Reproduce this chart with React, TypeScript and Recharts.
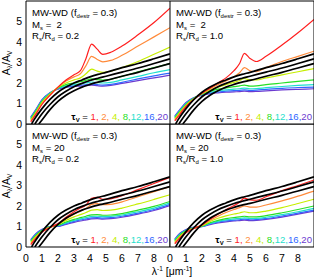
import React from 'react';
import { LineChart, Line, XAxis, YAxis } from 'recharts';

// ---------- data ----------
// wavenumber grids (1/micron) for the left and right columns
const XG_L = [0.3, 0.6, 1, 1.5, 2, 2.5, 3, 3.4, 3.75, 4.1, 4.45, 4.8, 5.3, 6, 7, 8, 9];
const XG_R = [0.3, 0.6, 1, 1.5, 2, 2.5, 3, 3.5, 4, 4.35, 4.65, 5.0, 5.4, 6, 7, 8, 9];

const TAU_LABELS = ['1', '2', '4', '8', '12', '16', '20'];
const COLORS = ['#ff1f1f', '#ff8a3a', '#c6ee00', '#26e026', '#1fe0cc', '#3068ff', '#6c3ad0'];

// black curves
const B1_X = [0.35, 0.5, 1, 1.5, 2, 2.5, 3, 3.5, 4, 4.5, 5, 6, 7, 8, 9];
const B1_Y = [0, 0.2, 0.75, 1.2, 1.55, 1.8, 2.0, 2.15, 2.3, 2.42, 2.52, 2.75, 2.95, 3.18, 3.42];
const B2_X = [0.55, 1, 1.5, 2, 2.5, 3, 3.5, 4, 4.5, 5, 6, 7, 8, 9];
const B2_Y = [0, 0.5, 0.95, 1.33, 1.6, 1.82, 1.98, 2.12, 2.23, 2.33, 2.53, 2.73, 2.95, 3.18];
const B3_X = [0.8, 1, 1.5, 2, 2.5, 3, 3.5, 4, 4.5, 5, 6, 7, 8, 9];
const B3_Y = [0, 0.2, 0.7, 1.1, 1.4, 1.62, 1.8, 1.93, 2.04, 2.13, 2.33, 2.52, 2.73, 2.95];

// Ms = 2, Rs/Rd = 0.2   (grid XG_L)
const TL_1 = [0.1, 0.45, 0.95, 1.4, 1.8, 2.15, 2.4, 2.6, 3.2, 3.9, 3.65, 3.4, 3.5, 3.8, 4.35, 4.95, 5.65];
const TL_2 = [0.15, 0.5, 1.0, 1.42, 1.8, 2.1, 2.3, 2.45, 2.85, 3.3, 3.15, 3.03, 3.1, 3.35, 3.8, 4.25, 4.7];
const TL_4 = [0.2, 0.55, 1.05, 1.45, 1.78, 2.0, 2.15, 2.25, 2.45, 2.68, 2.58, 2.52, 2.58, 2.75, 3.05, 3.4, 3.75];
const TL_8 = [0.25, 0.6, 1.1, 1.48, 1.76, 1.92, 2.0, 2.06, 2.13, 2.2, 2.16, 2.14, 2.18, 2.32, 2.55, 2.75, 2.95];
const TL_12 = [0.28, 0.63, 1.13, 1.5, 1.74, 1.86, 1.92, 1.96, 2.0, 2.05, 2.02, 2.0, 2.03, 2.15, 2.32, 2.5, 2.65];
const TL_16 = [0.31, 0.66, 1.16, 1.52, 1.72, 1.82, 1.86, 1.89, 1.92, 1.95, 1.92, 1.9, 1.93, 2.03, 2.2, 2.35, 2.48];
const TL_20 = [0.34, 0.69, 1.19, 1.53, 1.7, 1.79, 1.83, 1.85, 1.87, 1.9, 1.87, 1.85, 1.88, 1.98, 2.12, 2.25, 2.38];

// Ms = 2, Rs/Rd = 1.0   (grid XG_R)
const TR_1 = [0.15, 0.45, 0.85, 1.2, 1.5, 1.75, 2.0, 2.25, 2.6, 2.95, 3.45, 3.2, 3.05, 3.3, 3.85, 4.45, 5.1];
const TR_2 = [0.2, 0.5, 0.88, 1.22, 1.5, 1.72, 1.92, 2.1, 2.3, 2.5, 2.75, 2.6, 2.55, 2.75, 3.05, 3.3, 3.55];
const TR_4 = [0.25, 0.55, 0.92, 1.24, 1.48, 1.66, 1.8, 1.92, 2.03, 2.12, 2.22, 2.15, 2.15, 2.25, 2.4, 2.55, 2.7];
const TR_8 = [0.3, 0.6, 0.96, 1.26, 1.46, 1.6, 1.7, 1.76, 1.82, 1.86, 1.9, 1.85, 1.86, 1.92, 2.0, 2.08, 2.15];
const TR_12 = [0.33, 0.63, 0.99, 1.27, 1.44, 1.55, 1.62, 1.66, 1.7, 1.72, 1.75, 1.72, 1.73, 1.77, 1.83, 1.88, 1.92];
const TR_16 = [0.36, 0.66, 1.02, 1.28, 1.42, 1.51, 1.56, 1.6, 1.63, 1.64, 1.66, 1.64, 1.65, 1.69, 1.74, 1.78, 1.8];
const TR_20 = [0.39, 0.69, 1.05, 1.29, 1.4, 1.48, 1.52, 1.55, 1.57, 1.58, 1.6, 1.58, 1.59, 1.62, 1.66, 1.69, 1.72];

// Ms = 20, Rs/Rd = 0.2   (grid XG_L)
const BL_1 = [0.12, 0.4, 0.72, 0.95, 1.15, 1.45, 1.72, 1.9, 2.05, 2.38, 2.42, 2.33, 2.35, 2.5, 2.8, 3.1, 3.4];
const BL_2 = [0.17, 0.45, 0.74, 0.96, 1.12, 1.38, 1.6, 1.75, 1.88, 2.08, 2.12, 2.06, 2.08, 2.2, 2.45, 2.7, 2.95];
const BL_4 = [0.22, 0.5, 0.77, 0.97, 1.09, 1.3, 1.47, 1.58, 1.68, 1.8, 1.82, 1.78, 1.8, 1.9, 2.1, 2.32, 2.55];
const BL_8 = [0.27, 0.55, 0.8, 0.98, 1.06, 1.22, 1.35, 1.43, 1.5, 1.57, 1.58, 1.55, 1.56, 1.63, 1.8, 1.98, 2.22];
const BL_12 = [0.3, 0.58, 0.82, 0.99, 1.04, 1.18, 1.3, 1.37, 1.43, 1.49, 1.5, 1.48, 1.49, 1.56, 1.72, 1.9, 2.15];
const BL_16 = [0.33, 0.61, 0.84, 1.0, 1.02, 1.14, 1.25, 1.32, 1.37, 1.42, 1.43, 1.41, 1.43, 1.5, 1.65, 1.83, 2.08];
const BL_20 = [0.36, 0.64, 0.86, 1.0, 1.0, 1.1, 1.2, 1.27, 1.32, 1.37, 1.38, 1.36, 1.38, 1.45, 1.6, 1.78, 2.02];

// Ms = 20, Rs/Rd = 1.0   (grid XG_R)
const BR_1 = [0.15, 0.42, 0.7, 0.9, 1.08, 1.35, 1.6, 1.82, 2.02, 2.18, 2.38, 2.3, 2.28, 2.45, 2.75, 3.0, 3.27];
const BR_2 = [0.2, 0.47, 0.73, 0.91, 1.06, 1.3, 1.5, 1.68, 1.83, 1.92, 2.0, 1.95, 1.95, 2.05, 2.25, 2.48, 2.73];
const BR_4 = [0.25, 0.52, 0.76, 0.93, 1.04, 1.24, 1.4, 1.52, 1.61, 1.66, 1.72, 1.67, 1.68, 1.75, 1.92, 2.12, 2.33];
const BR_8 = [0.3, 0.57, 0.79, 0.94, 1.02, 1.18, 1.3, 1.38, 1.44, 1.47, 1.5, 1.47, 1.47, 1.53, 1.67, 1.83, 2.0];
const BR_12 = [0.33, 0.6, 0.81, 0.95, 1.01, 1.15, 1.25, 1.32, 1.37, 1.39, 1.42, 1.39, 1.4, 1.45, 1.58, 1.72, 1.88];
const BR_16 = [0.36, 0.63, 0.83, 0.96, 1.0, 1.12, 1.21, 1.27, 1.31, 1.33, 1.36, 1.33, 1.34, 1.39, 1.51, 1.65, 1.8];
const BR_20 = [0.39, 0.66, 0.85, 0.97, 0.99, 1.09, 1.17, 1.23, 1.27, 1.29, 1.31, 1.29, 1.3, 1.35, 1.46, 1.6, 1.75];

// ticks
const X_MAJOR = [0, 1, 2, 3, 4, 5, 6, 7, 8, 9];
const X_LABELS = [0, 1, 2, 3, 4, 5, 6, 7, 8];
const Y_MAJOR = [0, 1, 2, 3, 4, 5, 6];
const Y_LABELS = [0, 1, 2, 3, 4, 5];
const X_MINOR = Array.from({ length: 46 }, (_, i) => Math.round(i * 2) / 10).filter((v) => v % 1 !== 0);
const Y_MINOR = Array.from({ length: 31 }, (_, i) => Math.round(i * 2) / 10).filter((v) => v % 1 !== 0);

const X_DOMAIN: [number, number] = [0, 9];
const Y_DOMAIN: [number, number] = [0, 6];

// ---------- helpers ----------
const toPts = (xs: number[], ys: number[]) => xs.map((x, i) => ({ x, y: ys[i] }));
const BLACKS = [toPts(B1_X, B1_Y), toPts(B2_X, B2_Y), toPts(B3_X, B3_Y)];

const FONT = '"Liberation Sans", Arial, Helvetica, sans-serif';

type PanelDef = {
  key: string;
  left: number;
  top: number;
  w: number;
  h: number;
  margin: { top: number; right: number; bottom: number; left: number };
  showY: boolean;
  showX: boolean;
  grid: number[];
  series: number[][];
  plotLeft: number;
  plotTop: number;
  plotRight: number;
  plotBottom: number;
  ms: string;
  rr: string;
};

const PANELS: PanelDef[] = [
  { key: 'tl', left: 0, top: 0, w: 170, h: 130, margin: { top: 1, right: 0, bottom: 6, left: 0 }, showY: true, showX: false,
    grid: XG_L, series: [TL_1, TL_2, TL_4, TL_8, TL_12, TL_16, TL_20], plotLeft: 26, plotTop: 1, plotRight: 170, plotBottom: 124, ms: ' 2', rr: '0.2' },
  { key: 'tr', left: 170, top: 0, w: 144, h: 130, margin: { top: 1, right: 0, bottom: 6, left: 0 }, showY: false, showX: false,
    grid: XG_R, series: [TR_1, TR_2, TR_4, TR_8, TR_12, TR_16, TR_20], plotLeft: 170, plotTop: 1, plotRight: 314, plotBottom: 124, ms: ' 2', rr: '1.0' },
  { key: 'bl', left: 0, top: 124, w: 170, h: 155, margin: { top: 0, right: 0, bottom: 0, left: 0 }, showY: true, showX: true,
    grid: XG_L, series: [BL_1, BL_2, BL_4, BL_8, BL_12, BL_16, BL_20], plotLeft: 26, plotTop: 124, plotRight: 170, plotBottom: 247, ms: '20', rr: '0.2' },
  { key: 'br', left: 160, top: 124, w: 154, h: 155, margin: { top: 0, right: 0, bottom: 0, left: 10 }, showY: false, showX: true,
    grid: XG_R, series: [BR_1, BR_2, BR_4, BR_8, BR_12, BR_16, BR_20], plotLeft: 170, plotTop: 124, plotRight: 314, plotBottom: 247, ms: '20', rr: '1.0' },
];

const tickStyle = { fontSize: 10.5, fontFamily: FONT, fill: '#000' };

const Panel = ({ p }: { p: PanelDef }) => {
  const common = { type: 'number' as const, dataKey: 'x', domain: X_DOMAIN, allowDataOverflow: true, interval: 0 as const };
  const commonY = { type: 'number' as const, dataKey: 'y', domain: Y_DOMAIN, allowDataOverflow: true, interval: 0 as const };
  const order = [6, 5, 4, 3, 2, 1, 0];
  return (
    <div style={{ position: 'absolute', left: p.left, top: p.top }}>
      <LineChart width={p.w} height={p.h} margin={p.margin}>
        <XAxis xAxisId="x" orientation="bottom" mirror {...common} ticks={X_MAJOR} tick={false} tickSize={4}
          axisLine={{ stroke: '#000', strokeWidth: 1 }} tickLine={{ stroke: '#000' }} height={1} />
        <XAxis xAxisId="xm" orientation="bottom" mirror {...common} ticks={X_MINOR} tick={false} tickSize={2}
          axisLine={false} tickLine={{ stroke: '#000' }} height={1} />
        <XAxis xAxisId="xt" orientation="top" mirror {...common} ticks={X_MAJOR} tick={false} tickSize={4}
          axisLine={{ stroke: '#000', strokeWidth: 1 }} tickLine={{ stroke: '#000' }} height={1} />
        <XAxis xAxisId="xtm" orientation="top" mirror {...common} ticks={X_MINOR} tick={false} tickSize={2}
          axisLine={false} tickLine={{ stroke: '#000' }} height={1} />
        {p.showX && (
          <XAxis xAxisId="xl" orientation="bottom" {...common} ticks={X_LABELS} tickLine={false} axisLine={false}
            tickSize={2} tickMargin={6} height={32} tick={tickStyle} />
        )}
        <YAxis yAxisId="y" orientation="left" mirror {...commonY} ticks={Y_MAJOR} tick={false} tickSize={4}
          axisLine={{ stroke: '#000', strokeWidth: 1 }} tickLine={{ stroke: '#000' }} width={1} />
        <YAxis yAxisId="ym" orientation="left" mirror {...commonY} ticks={Y_MINOR} tick={false} tickSize={2}
          axisLine={false} tickLine={{ stroke: '#000' }} width={1} />
        <YAxis yAxisId="yr" orientation="right" mirror {...commonY} ticks={Y_MAJOR} tick={false} tickSize={4}
          axisLine={{ stroke: '#000', strokeWidth: 1 }} tickLine={{ stroke: '#000' }} width={1} />
        <YAxis yAxisId="yrm" orientation="right" mirror {...commonY} ticks={Y_MINOR} tick={false} tickSize={2}
          axisLine={false} tickLine={{ stroke: '#000' }} width={1} />
        {p.showY && (
          <YAxis yAxisId="yl" orientation="left" {...commonY} ticks={Y_LABELS} tickLine={false} axisLine={false}
            tickSize={2} tickMargin={2} width={26} tick={tickStyle} />
        )}
        {order.map((i) => (
          <Line key={'c' + i} xAxisId="x" yAxisId="y" data={toPts(p.grid, p.series[i])} dataKey="y" type="monotone"
            stroke={COLORS[i]} strokeWidth={1.2} dot={false} isAnimationActive={false} />
        ))}
        {BLACKS.map((d, i) => (
          <Line key={'b' + i} xAxisId="x" yAxisId="y" data={d} dataKey="y" type="monotone"
            stroke="#000" strokeWidth={1.7} dot={false} isAnimationActive={false} />
        ))}
      </LineChart>
    </div>
  );
};

const sub = (t: string) => (
  <span style={{ fontSize: '0.62em', verticalAlign: '-0.3em' }}>{t}</span>
);
const sup = (t: string) => (
  <span style={{ fontSize: '0.62em', verticalAlign: '0.55em' }}>{t}</span>
);

const PanelText = ({ p }: { p: PanelDef }) => {
  const base: React.CSSProperties = {
    position: 'absolute', left: p.plotLeft + 6, fontFamily: FONT, fontSize: 9.6, lineHeight: '12px',
    color: '#000', whiteSpace: 'pre',
  };
  return (
    <>
      <div style={{ ...base, top: p.plotTop + 6 }}>MW-WD (f{sub('destr')} = 0.3)</div>
      <div style={{ ...base, top: p.plotTop + 17.5 }}>M{sub('s')} = {p.ms}</div>
      <div style={{ ...base, top: p.plotTop + 29 }}>R{sub('s')}/R{sub('d')} = {p.rr}</div>
      <div style={{ position: 'absolute', right: 317 - p.plotRight + 2, top: p.plotBottom - 13, fontFamily: FONT,
        fontSize: 9.6, lineHeight: '12px', whiteSpace: 'pre' }}>
        <span style={{ fontWeight: 'bold' }}>τ{sub('V')}</span> ={' '}
        {TAU_LABELS.map((t, i) => (
          <span key={t} style={{ color: COLORS[i] }}>
            {t}{i < TAU_LABELS.length - 1 ? (i < 3 ? ', ' : ',') : ''}
          </span>
        ))}
      </div>
    </>
  );
};

export default function App() {
  return (
    <div style={{ position: 'absolute', left: 0, top: 0, width: 317, height: 279, background: '#fff', overflow: 'hidden' }}>
      {PANELS.map((p) => <Panel key={p.key} p={p} />)}
      {PANELS.map((p) => <PanelText key={'t' + p.key} p={p} />)}
      {[63, 186].map((cy) => (
        <div key={cy} style={{ position: 'absolute', left: 8, top: cy, width: 0, height: 0 }}>
          <div style={{ position: 'absolute', transform: 'translate(-50%, -50%) rotate(-90deg)', fontFamily: FONT,
            fontSize: 10.5, whiteSpace: 'pre', lineHeight: '12px' }}>
            A{sub('λ')}/A{sub('V')}
          </div>
        </div>
      ))}
      <div style={{ position: 'absolute', left: 172, top: 270, width: 0, height: 0 }}>
        <div style={{ position: 'absolute', transform: 'translate(-50%, -50%)', fontFamily: FONT, fontSize: 10.5,
          whiteSpace: 'pre', lineHeight: '12px' }}>
          λ{sup('-1')} [μm{sup('-1')}]
        </div>
      </div>
    </div>
  );
}
